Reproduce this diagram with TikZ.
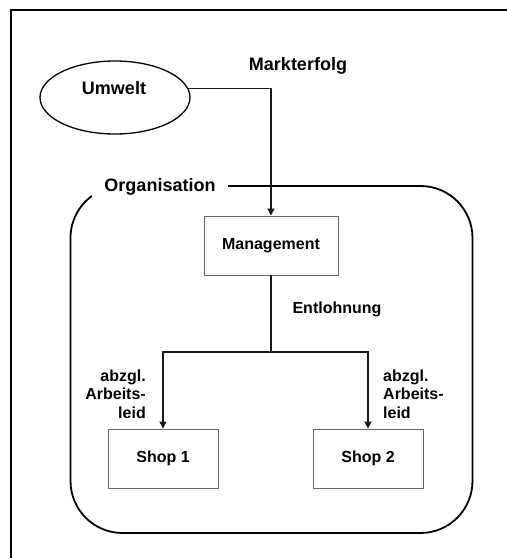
\documentclass[tikz,border=0pt]{standalone}
\usepackage{fontspec}
\setmainfont{Liberation Sans}
\usetikzlibrary{arrows.meta,shapes.geometric}
\begin{document}
\begin{tikzpicture}[x=1pt,y=1pt,
  big/.style={font=\fontsize{18}{21}\selectfont\bfseries, inner sep=0pt},
  small/.style={font=\fontsize{16}{18.5}\selectfont\bfseries, inner sep=0pt},
  boxnode/.style={draw=black!60, line width=0.9pt, minimum height=59pt, inner sep=0pt, font=\fontsize{16}{18.5}\selectfont\bfseries},
  conn/.style={line width=1.2pt, black!90},
  arr/.style={conn, -{Triangle[length=7pt,width=7pt]}},
  frameline/.style={line width=2pt, black},
  orgline/.style={line width=1.8pt, black}
]
\useasboundingbox (0,0) rectangle (507,558);
% frame (left and top edges)
\draw[frameline] (11,0) -- (11,548) -- (507,548);
% environment ellipse
\node[ellipse, draw, line width=1.3pt, minimum width=150pt, minimum height=73pt, inner sep=0pt] (umwelt) at (115,460.5) {};
\node[big] (umwelttxt) at (114,470) {Umwelt};
\node[big] (markt) at (298,492) {Markterfolg};
% organisation frame with gap for label
\draw[orgline] (228,372) -- (420.5,372) arc[start angle=90,end angle=0,radius=52]
  -- (472.5,77) arc[start angle=0,end angle=-90,radius=52]
  -- (122.5,25) arc[start angle=270,end angle=180,radius=52]
  -- (70.5,320) arc[start angle=180,end angle=126,radius=52];
\node[big] (org) at (160,371) {Organisation};
% boxes
\node[boxnode, minimum width=134pt] (mgmt) at (271,312.5) {Management};
\node[boxnode, minimum width=110pt] (shop1) at (163,99.5) {Shop 1};
\node[boxnode, minimum width=110pt] (shop2) at (368,99.5) {Shop 2};
% connectors
\draw[arr] (umwelt.7.5) -| (mgmt.north);
\coordinate (split) at (271,206);
\draw[conn] (mgmt.south) -- (split);
\draw[arr] (split) -| (shop1.north);
\draw[arr] (split) -| (shop2.north);
% labels
\node[small] (entl) at (337,249) {Entlohnung};
\node[small, anchor=east, align=right] (lab1) at (146,164) {abzgl.\\Arbeits-\\leid};
\node[small, anchor=west, align=left] (lab2) at (383,164) {abzgl.\\Arbeits-\\leid};
\end{tikzpicture}
\end{document}
